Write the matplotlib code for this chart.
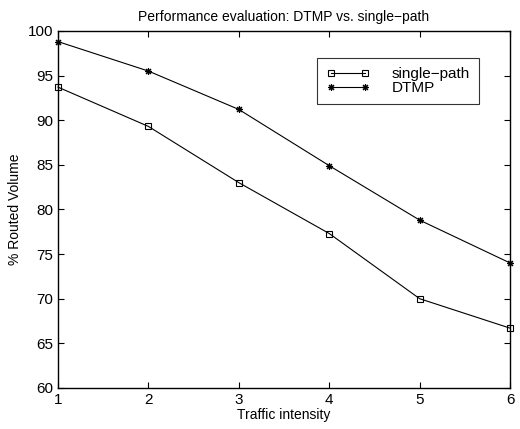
import matplotlib
matplotlib.use("Agg")
import matplotlib.pyplot as plt

plt.rcParams['font.family'] = ['Liberation Sans', 'DejaVu Sans']

# traffic intensity levels and routed volume (%) per scheme
intensity = [1, 2, 3, 4, 5, 6]
single_path = [93.7, 89.3, 83.0, 77.3, 70.0, 66.7]
dtmp = [98.8, 95.5, 91.2, 84.9, 78.8, 74.0]

fig = plt.figure(figsize=(5.2, 4.29), dpi=100)
ax = fig.add_axes([0.1115, 0.0956, 0.8695, 0.8324])

ax.plot(intensity, single_path, color='black', linewidth=0.8, marker='s',
        markersize=4, markerfacecolor='none', markeredgewidth=0.8,
        label='single\u2212path', clip_on=False)
# asterisk marker: 8 spokes
ax.plot(intensity, dtmp, color='black', linewidth=0.8, marker=(8, 2, 0),
        markersize=5, markeredgewidth=0.8, label='DTMP', clip_on=False)

ax.set_xlim(1, 6)
ax.set_ylim(60, 100)
ax.set_xticks(intensity)
ax.set_yticks(range(60, 101, 5))
ax.tick_params(direction='in', top=True, right=True, labelsize=11, length=4, width=0.8)
for s in ax.spines.values():
    s.set_linewidth(1.0)

ax.set_title('Performance evaluation: DTMP vs. single\u2212path', fontsize=10, pad=7)
ax.set_xlabel('Traffic intensity', fontsize=10, labelpad=1)
ax.set_ylabel('% Routed Volume', fontsize=10, labelpad=4)

leg = ax.legend(loc='upper left', bbox_to_anchor=(317 / 520, 1 - 58 / 429),
                bbox_transform=fig.transFigure, fontsize=11, frameon=True,
                fancybox=False, edgecolor='black', numpoints=2,
                handlelength=2.85, handletextpad=1.45, borderpad=0.6,
                labelspacing=0.0, borderaxespad=0)
leg.get_frame().set_linewidth(0.8)

fig.savefig('out.png', dpi=100)
